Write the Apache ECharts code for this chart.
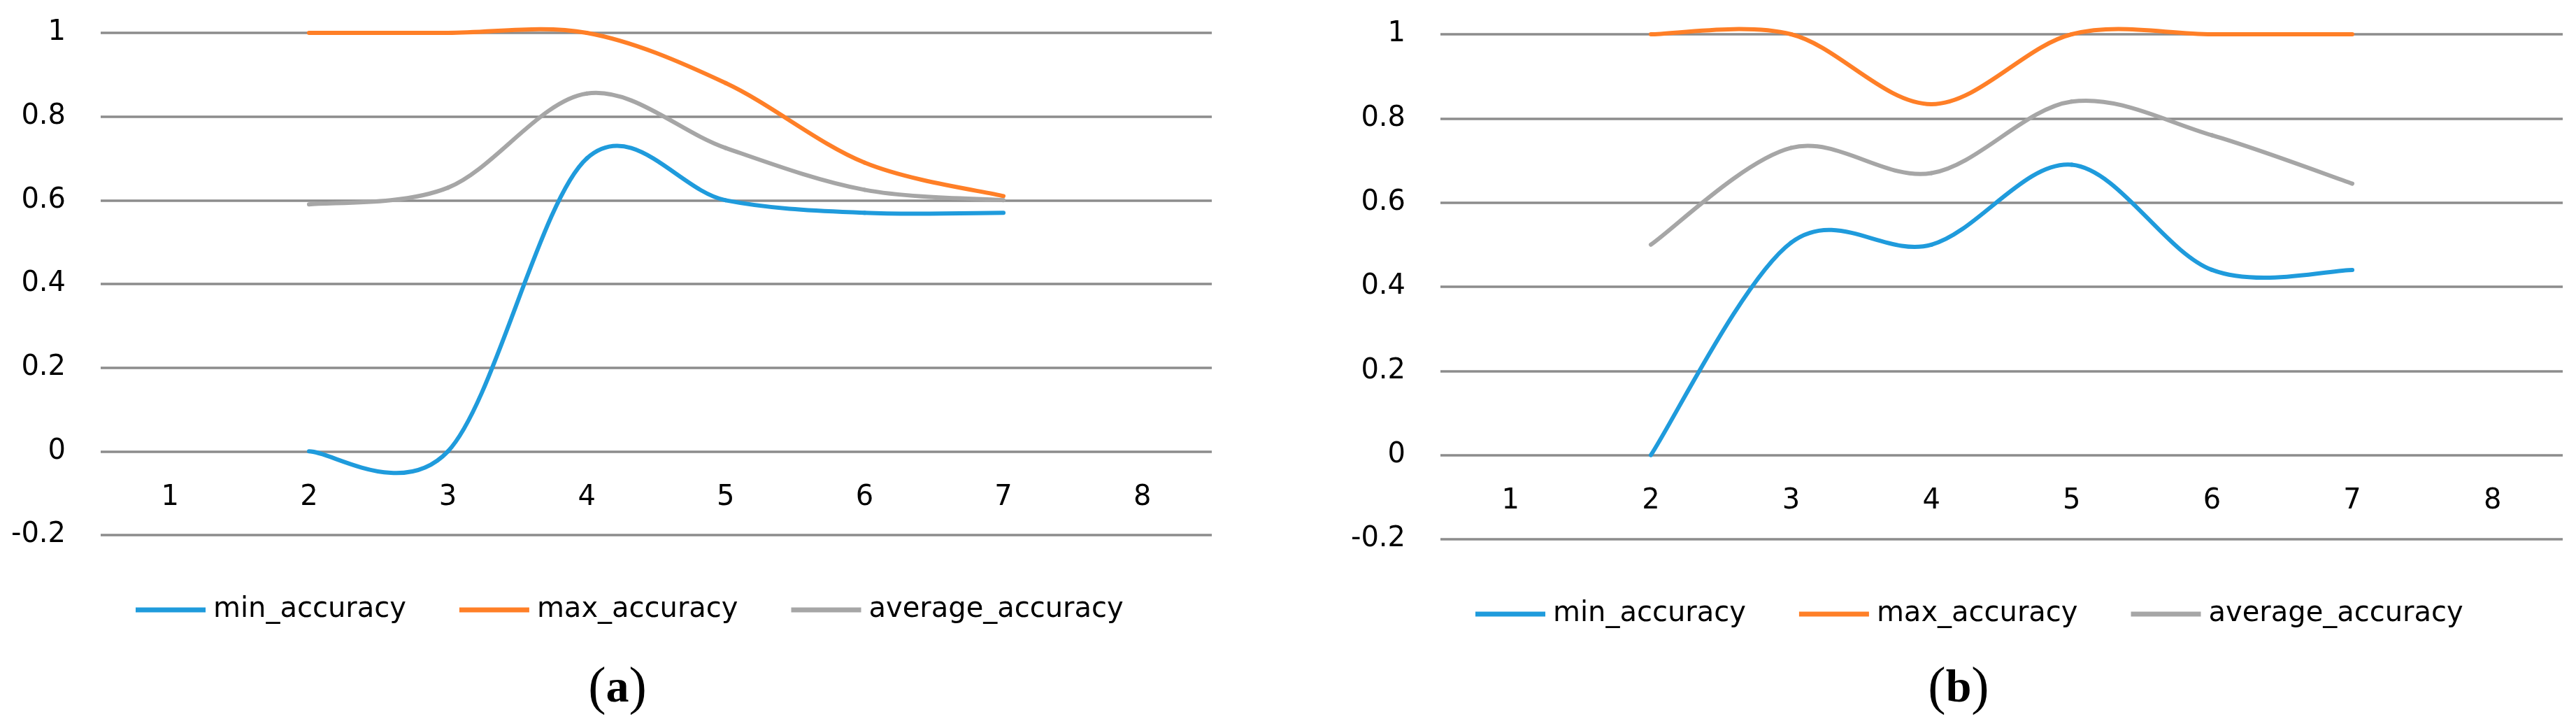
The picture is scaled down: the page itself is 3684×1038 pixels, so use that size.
<!DOCTYPE html>
<html>
<head>
<meta charset="utf-8">
<script src="https://cdn.jsdelivr.net/npm/echarts@6/dist/echarts.min.js"></script>
<style>
  html, body { margin: 0; padding: 0; background: #fff; }
  #chart { width: 3684px; height: 1038px; }
</style>
</head>
<body>
<div id="chart"></div>
<script>
const categories = ['1', '2', '3', '4', '5', '6', '7', '8']
const yTicks = { min: -0.2, max: 1, interval: 0.2 }
const seriesNames = ['min_accuracy', 'max_accuracy', 'average_accuracy']
const panelLabels = ['a', 'b']

// panel (a)
const minA = [null, 0, 0, 0.7, 0.6, 0.57, 0.57, null]
const maxA = [null, 1, 1, 1, 0.88, 0.69, 0.61, null]
const avgA = [null, 0.59, 0.63, 0.855, 0.725, 0.625, 0.6, null]

// panel (b)
const minB = [null, 0, 0.505, 0.5, 0.69, 0.44, 0.44, null]
const maxB = [null, 1, 1, 0.834, 1, 1, 1, null]
const avgB = [null, 0.5, 0.73, 0.67, 0.84, 0.76, 0.645, null]

const colors = ['#1f9bdc', '#ff7f27', '#a6a6a6']
const font = 'DejaVu Sans'

const chart = echarts.init(document.getElementById('chart'), null, { renderer: 'canvas' })

const grids = [
  { left: 144, top: 47, width: 1589, height: 718 },
  { left: 2060, top: 49, width: 1605, height: 722 }
]

// category labels sit under the 0 line, not under the -0.2 line
function xAxis(i) {
  const g = grids[i]
  return {
    type: 'category',
    gridIndex: i,
    data: categories,
    boundaryGap: true,
    position: 'bottom',
    offset: -g.height * (0 - yTicks.min) / (yTicks.max - yTicks.min),
    axisLine: { show: false, onZero: false },
    axisTick: { show: false },
    axisLabel: { fontSize: 40, fontFamily: font, color: '#000', margin: 46 },
    splitLine: { show: false }
  }
}

function yAxis(i) {
  return {
    type: 'value',
    gridIndex: i,
    min: yTicks.min,
    max: yTicks.max,
    interval: yTicks.interval,
    axisLine: { show: false },
    axisTick: { show: false },
    axisLabel: { fontSize: 40, fontFamily: font, color: '#000', margin: 50 },
    splitLine: { lineStyle: { color: '#8c8c8c', width: 3.5 } }
  }
}

// Excel-style smoothed line: cubic bezier per segment, catmull-rom control points
function curve(name, values, idx, color) {
  const data = []
  for (let i = 0; i < values.length - 1; i++) {
    if (values[i] != null && values[i + 1] != null) data.push([i, values[i]])
  }
  return {
    name: name,
    type: 'custom',
    xAxisIndex: idx,
    yAxisIndex: idx,
    data: data,
    itemStyle: { color: color },
    silent: true,
    renderItem: function (params, api) {
      const i = api.value(0)
      const pt = k => api.coord([k, values[k]])
      const p0 = pt(i)
      const p1 = pt(i + 1)
      const pm = values[i - 1] != null ? pt(i - 1) : p0
      const p2 = values[i + 2] != null ? pt(i + 2) : p1
      return {
        type: 'bezierCurve',
        shape: {
          x1: p0[0], y1: p0[1],
          x2: p1[0], y2: p1[1],
          cpx1: p0[0] + (p1[0] - pm[0]) / 6,
          cpy1: p0[1] + (p1[1] - pm[1]) / 6,
          cpx2: p1[0] - (p2[0] - p0[0]) / 6,
          cpy2: p1[1] - (p2[1] - p0[1]) / 6
        },
        style: { stroke: color, lineWidth: 6, fill: null, lineCap: 'round' }
      }
    }
  }
}

function legend(left, top) {
  return {
    left: left,
    top: top,
    data: seriesNames,
    icon: 'rect',
    itemWidth: 100,
    itemHeight: 7,
    itemGap: 76,
    selectedMode: false,
    textStyle: { fontSize: 40, fontFamily: font, color: '#000', padding: [0, 0, 0, 6] }
  }
}

function panelLabel(x, letter) {
  return {
    type: 'text',
    x: x,
    y: 986,
    style: {
      text: '{p|(}{b|' + letter + '}{p|)}',
      align: 'center',
      verticalAlign: 'middle',
      rich: {
        p: { fontSize: 76, fontFamily: 'Liberation Serif', fill: '#000' },
        b: { fontSize: 66, fontFamily: 'Liberation Serif', fontWeight: 'bold', fill: '#000' }
      }
    }
  }
}

chart.setOption({
  animation: false,
  backgroundColor: '#fff',
  grid: grids,
  xAxis: [xAxis(0), xAxis(1)],
  yAxis: [yAxis(0), yAxis(1)],
  legend: [legend(189, 847), legend(2105, 853)],
  series: [
    curve(seriesNames[0], minA, 0, colors[0]),
    curve(seriesNames[1], maxA, 0, colors[1]),
    curve(seriesNames[2], avgA, 0, colors[2]),
    curve(seriesNames[0], minB, 1, colors[0]),
    curve(seriesNames[1], maxB, 1, colors[1]),
    curve(seriesNames[2], avgB, 1, colors[2])
  ],
  graphic: [panelLabel(883, panelLabels[0]), panelLabel(2801, panelLabels[1])]
})
</script>
</body>
</html>
